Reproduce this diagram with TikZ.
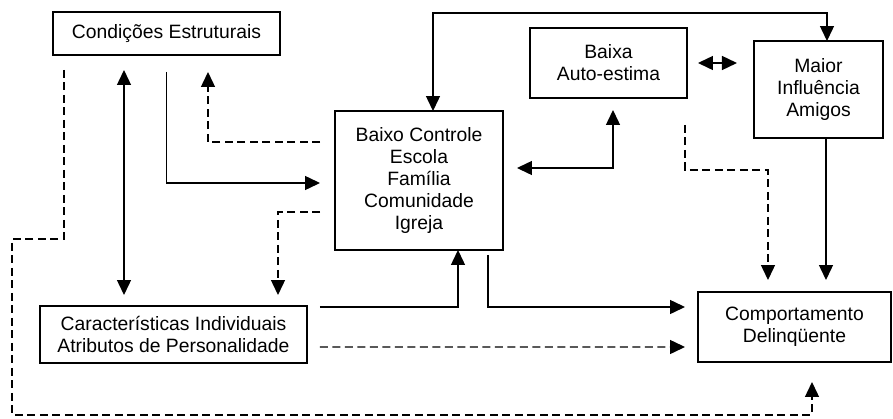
\documentclass[tikz,border=0pt]{standalone}
\usepackage{fontspec}
\setmainfont{Liberation Sans}
\usepackage{tikz}
\usetikzlibrary{arrows.meta, calc}

\begin{document}
\begin{tikzpicture}[
    x=0.02cm, y=-0.02cm,
    box/.style={rectangle, draw=black, line width=0.8pt, outer sep=0pt, inner sep=0pt, align=center, font=\fontsize{11}{12.5}\selectfont},
    arrow/.style={-{Triangle[length=3mm,width=2.8mm]}, line width=0.8pt},
    twoway/.style={{Triangle[length=3mm,width=2.8mm]}-{Triangle[length=3mm,width=2.8mm]}, line width=0.8pt},
    dashline/.style={dash pattern=on 1.6mm off 0.9mm}
]
\useasboundingbox (0,0) rectangle (893,419);

\node[box, minimum width=4.54cm, minimum height=0.86cm] (cond) at (166.5,33.5) {Condições Estruturais};
\node[box, minimum width=3.36cm, minimum height=2.78cm] (controle) at (419,180.5) {Baixo Controle\\Escola\\Família\\Comunidade\\Igreja};
\node[box, minimum width=3.14cm, minimum height=1.4cm] (autoestima) at (608.5,63) {Baixa\\Auto-estima};
\node[box, minimum width=2.58cm, minimum height=1.94cm] (amigos) at (818.5,89.5) {Maior\\Influência\\Amigos};
\node[box, minimum width=5.34cm, minimum height=1.14cm] (caract) at (173.5,334.5) {Características Individuais\\Atributos de Personalidade};
\node[box, minimum width=3.86cm, minimum height=1.4cm] (comport) at (794.5,327) {Comportamento\\Delinqüente};

% ligações de cima
\draw[twoway] ($(controle.north)+(14,0)$) -- ++(0,-98) -| ($(amigos.north)+(8.5,0)$);
\draw[twoway] ($(autoestima.east)+(11,0)$) -- ++(39,0);
\draw[twoway] ($(controle.east)+(14,-12.5)$) -| ($(autoestima.south)+(4.5,12)$);

% condições estruturais
\draw[arrow] ($(cond.south)+(0,17)$) |- ($(controle.west)+(-15,2.5)$);
\draw[arrow, dashline] ($(controle.west)+(-15,-38.5)$) -| ($(cond.south)+(41.5,17)$);
\draw[twoway] ($(cond.south)+(-42.5,15)$) -- ($(caract.north)+(-49.5,-11)$);
\draw[arrow, dashline] ($(cond.south)+(-102.5,15)$) -- ++(0,169) -- ++(-52,0) |- ($(comport.south)+(17.5,53)$) -- ($(comport.south)+(17.5,20)$);

% características individuais
\draw[arrow, dashline] ($(controle.west)+(-15,31.5)$) -| ($(caract.north)+(104.5,-11)$);
\draw[arrow] ($(caract.east)+(13,-27.5)$) -| ($(controle.south)+(39,0)$);
\draw[arrow, dashline] ($(caract.east)+(13,12.5)$) -- ($(comport.west)+(-13,20)$);

% comportamento delinquente
\draw[arrow] ($(controle.south)+(69,5)$) |- ($(comport.west)+(-13,-20)$);
\draw[arrow, dashline] ($(autoestima.south)+(76.5,27)$) -- ++(0,45) -| ($(comport.north)+(-26.5,-12)$);
\draw[arrow] ($(amigos.south)+(7.5,0)$) -- ($(comport.north)+(31.5,-12)$);
\end{tikzpicture}
\end{document}
